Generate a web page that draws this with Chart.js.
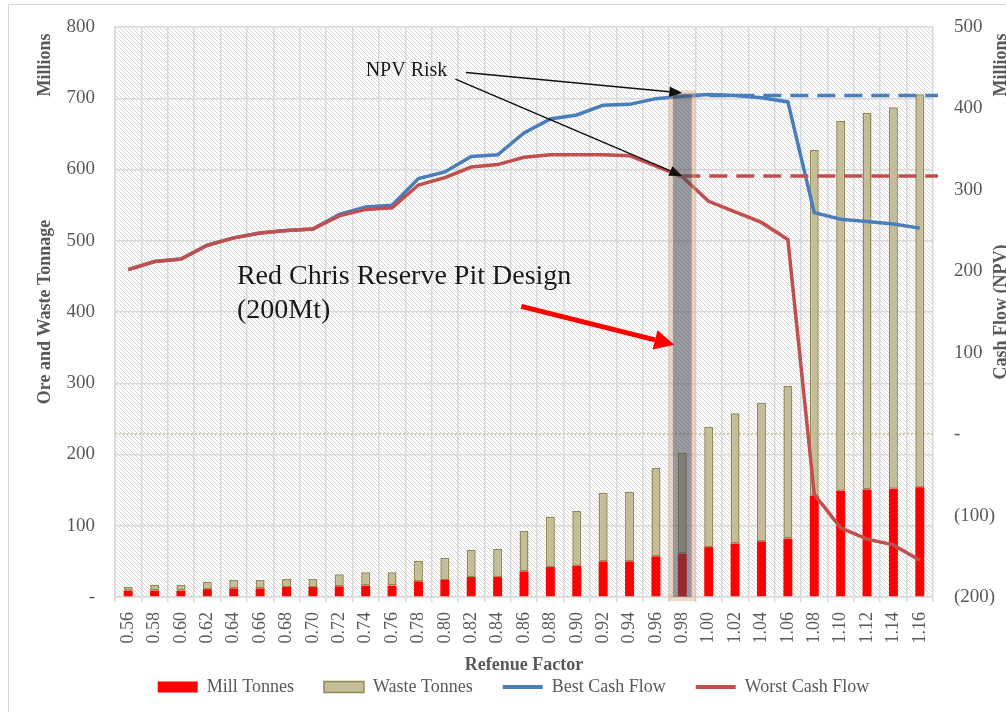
<!DOCTYPE html>
<html>
<head>
<meta charset="utf-8">
<script src="https://cdn.jsdelivr.net/npm/chart.js@4.4.0/dist/chart.umd.min.js"></script>
<style>
  html, body { margin: 0; padding: 0; background: #fff; overflow: hidden; width: 1006px; height: 712px; }
  #frame { position: absolute; left: 8px; top: 4px; width: 1040px; height: 760px; border: 1.5px solid #d9d9d9; }
  #wrap { position: absolute; left: 0; top: 0; width: 1027px; height: 712px; }
</style>
</head>
<body>
<div id="frame"></div>
<div id="wrap"><canvas id="chart"></canvas></div>
<script>
const factors = ['0.56','0.58','0.60','0.62','0.64','0.66','0.68','0.70','0.72','0.74','0.76',
                 '0.78','0.80','0.82','0.84','0.86','0.88','0.90','0.92','0.94','0.96','0.98',
                 '1.00','1.02','1.04','1.06','1.08','1.10','1.12','1.14','1.16'];

// millions of tonnes (left axis)
const millTonnes  = [9, 9, 9, 11, 12, 12, 14, 14, 15, 16, 16, 22, 24, 28, 28, 36, 42, 44, 50, 50,
                     57, 61, 70, 75, 78, 82, 142, 149, 151, 152, 154];
const wasteTonnes = [5.5, 7.8, 7.8, 10, 11.9, 11.9, 11.3, 11.3, 16.8, 18.6, 18.6, 28.5, 31.2, 38, 39.4,
                     56.6, 70.7, 76.7, 96.4, 97.8, 124.5, 141.6, 169, 183, 194.7, 214, 485.4, 519,
                     528.7, 535.3, 551.5];

// NPV, millions (right axis)
const bestCashFlow  = [202, 212, 215, 232, 241, 247, 250, 252, 270, 279, 281, 314, 322, 341, 343,
                       370, 387, 392, 404, 405, 412, 415, 417, 416, 413, 408, 272, 264, 261, 258, 253];
const worstCashFlow = [202, 212, 215, 232, 241, 247, 250, 252, 268, 276, 278, 306, 315, 328, 331,
                       340, 343, 343, 343, 342, 329, 316, 286, 273, 260, 239, -74, -115, -129, -136, -155];

const leftTicks = { min: 0, max: 800, step: 100 };
const rightTicks = { min: -200, max: 500, step: 100 };

// chosen pit and NPV risk levels (best, worst)
const riskIndex = 21;
const riskLevels = [416, 317];
const riskColors = ['#4a7ebb', '#c0504d'];

// annotation anchors: [category index, axis value]
const npvLabel = ['NPV Risk', 9, 440];
const npvArrowStarts = [[12.8, 444], [12.4, 436]];
const npvArrowTips = [[21, 419], [21, 317]];
const pitLabel = ['Red Chris Reserve Pit Design', '(200Mt)'];
const pitLabelAt = [4.12, 438.6, 391.6];
const pitArrow = [[14.9, 408], [20.7, 354]];

const axisTitles = ['Ore and Waste Tonnage', 'Cash Flow (NPV)', 'Refenue Factor'];
const unitLabel = 'Millions';

Chart.defaults.font.family = "'Liberation Serif', 'Times New Roman', serif";
Chart.defaults.color = '#595959';

function arrow(ctx, x1, y1, x2, y2, lw, head, spread, color) {
  const ang = Math.atan2(y2 - y1, x2 - x1);
  const bx = x2 - head * Math.cos(ang), by = y2 - head * Math.sin(ang);
  ctx.strokeStyle = color; ctx.fillStyle = color; ctx.lineWidth = lw;
  ctx.beginPath(); ctx.moveTo(x1, y1); ctx.lineTo(bx, by); ctx.stroke();
  ctx.beginPath();
  ctx.moveTo(x2, y2);
  ctx.lineTo(bx + head * spread * Math.sin(ang), by - head * spread * Math.cos(ang));
  ctx.lineTo(bx - head * spread * Math.sin(ang), by + head * spread * Math.cos(ang));
  ctx.closePath(); ctx.fill();
}

const hatchPlugin = {
  id: 'hatch',
  beforeDraw(chart) {
    const { ctx, chartArea: a } = chart;
    const tile = document.createElement('canvas');
    tile.width = tile.height = 4;
    const t = tile.getContext('2d');
    t.strokeStyle = '#d6d6d6'; t.lineWidth = 1;
    t.beginPath(); t.moveTo(-1, -1); t.lineTo(5, 5); t.stroke();
    ctx.save();
    ctx.fillStyle = ctx.createPattern(tile, 'repeat');
    ctx.fillRect(a.left, a.top, a.right - a.left, a.bottom - a.top);
    ctx.restore();
  }
};

const overlayPlugin = {
  id: 'overlay',
  afterDatasetsDraw(chart) {
    const { ctx, chartArea: a, scales: { x, y, y2 } } = chart;
    const xr = x.getPixelForValue(riskIndex);
    const cw = x.getPixelForValue(1) - x.getPixelForValue(0);
    ctx.save();
    // risk levels carried forward
    ctx.lineWidth = 3.5; ctx.setLineDash([18, 9]);
    riskLevels.forEach((v, i) => {
      const py = y2.getPixelForValue(v);
      ctx.strokeStyle = riskColors[i];
      ctx.beginPath(); ctx.moveTo(xr, py); ctx.lineTo(a.right + 5, py); ctx.stroke();
    });
    ctx.setLineDash([]);

    // highlighted pit column
    const top = y2.getPixelForValue(riskLevels[0]) - 1;
    const hw = cw * 0.36;
    ctx.fillStyle = 'rgba(70,74,84,0.55)';
    ctx.fillRect(xr - hw, top, 2 * hw, a.bottom - top);
    ctx.strokeStyle = 'rgba(225,160,110,0.4)'; ctx.lineWidth = 4;
    ctx.strokeRect(xr - hw - 2, top - 2, 2 * hw + 4, a.bottom - top + 4);

    // NPV Risk annotation
    ctx.font = "20px 'Liberation Serif', serif";
    ctx.fillStyle = '#1a1a1a'; ctx.textAlign = 'left'; ctx.textBaseline = 'alphabetic';
    ctx.fillText(npvLabel[0], x.getPixelForValue(npvLabel[1]), y2.getPixelForValue(npvLabel[2]));
    npvArrowStarts.forEach((s, i) => {
      const t = npvArrowTips[i];
      arrow(ctx, x.getPixelForValue(s[0]), y2.getPixelForValue(s[1]),
            x.getPixelForValue(t[0]), y2.getPixelForValue(t[1]), 1.5, 13, 0.4, '#111');
    });

    // pit design annotation
    ctx.font = "28px 'Liberation Serif', serif";
    ctx.fillStyle = '#1a1a1a';
    const px = x.getPixelForValue(pitLabelAt[0]);
    ctx.fillText(pitLabel[0], px, y.getPixelForValue(pitLabelAt[1]));
    ctx.fillText(pitLabel[1], px, y.getPixelForValue(pitLabelAt[2]));
    arrow(ctx, x.getPixelForValue(pitArrow[0][0]), y.getPixelForValue(pitArrow[0][1]),
          x.getPixelForValue(pitArrow[1][0]), y.getPixelForValue(pitArrow[1][1]), 5, 20, 0.5, '#ff0000');
    ctx.restore();
  },
  afterDraw(chart) {
    const { ctx, chartArea: a, scales: { y2 } } = chart;
    const midY = (a.top + a.bottom) / 2;
    ctx.save();
    ctx.font = "bold 18px 'Liberation Serif', serif";
    ctx.fillStyle = '#595959';
    ctx.textAlign = 'center'; ctx.textBaseline = 'middle';
    const vtext = (s, cx, cy) => {
      ctx.save(); ctx.translate(cx, cy); ctx.rotate(-Math.PI / 2); ctx.fillText(s, 0, 0); ctx.restore();
    };
    vtext(axisTitles[0], 45.5, midY);
    vtext(unitLabel, 45.5, 65);
    vtext(axisTitles[1], y2.left + 68, midY);
    vtext(unitLabel, y2.left + 68, 65);
    ctx.fillText(axisTitles[2], (a.left + a.right) / 2, 665);
    ctx.restore();
  }
};

const barCommon = { yAxisID: 'y', stack: 'tonnes', barPercentage: 0.34, categoryPercentage: 1 };

new Chart(document.getElementById('chart'), {
  data: {
    labels: factors,
    datasets: [
      { type: 'bar', label: 'Mill Tonnes', data: millTonnes, backgroundColor: '#ff0000',
        borderWidth: 0, order: 2, ...barCommon },
      { type: 'bar', label: 'Waste Tonnes', data: wasteTonnes, backgroundColor: '#c4bd97',
        borderColor: '#938953', borderWidth: 1.5, borderSkipped: false, order: 3, ...barCommon },
      { type: 'line', label: 'Best Cash Flow', data: bestCashFlow, borderColor: '#4a7ebb',
        backgroundColor: '#4a7ebb', borderWidth: 3.5, pointRadius: 0, tension: 0, yAxisID: 'y2', order: 1 },
      { type: 'line', label: 'Worst Cash Flow', data: worstCashFlow, borderColor: '#c0504d',
        backgroundColor: '#c0504d', borderWidth: 3.5, pointRadius: 0, tension: 0, yAxisID: 'y2', order: 0 }
    ]
  },
  options: {
    responsive: true,
    maintainAspectRatio: false,
    animation: false,
    layout: { padding: { top: 27, left: 0, right: 0, bottom: 6 } },
    plugins: {
      tooltip: { enabled: false },
      legend: {
        position: 'bottom',
        labels: {
          usePointStyle: true,
          pointStyleWidth: 40,
          boxHeight: 11,
          padding: 30,
          color: '#595959',
          font: { size: 18 },
          generateLabels(chart) {
            const items = Chart.defaults.plugins.legend.labels.generateLabels(chart);
            items.forEach(it => {
              const ds = chart.data.datasets[it.datasetIndex];
              it.pointStyle = ds.type === 'line' ? 'line' : 'rect';
              if (ds.type === 'line') it.lineWidth = 4;
            });
            return items;
          },
          sort: (a, b) => a.datasetIndex - b.datasetIndex
        }
      }
    },
    scales: {
      x: {
        stacked: true,
        offset: true,
        grid: { offset: true, color: '#d9d9d9', lineWidth: 1.5, tickLength: 5 },
        border: { color: '#d9d9d9', width: 1.5 },
        ticks: { autoSkip: false, minRotation: 90, maxRotation: 90, padding: 10,
                 font: { size: 18 }, color: '#595959' },
        afterFit(s) { s.height = 51; }
      },
      y: {
        position: 'left',
        stacked: true,
        min: leftTicks.min, max: leftTicks.max,
        ticks: { stepSize: leftTicks.step, padding: 20, font: { size: 19 }, color: '#595959',
                 callback: v => v === 0 ? '-' : v },
        grid: { color: '#d9d9d9', lineWidth: 1.5, drawTicks: false },
        border: { color: '#d9d9d9', width: 1.5 },
        afterFit(s) { s.width = 115; s.paddingTop = 0; s.paddingBottom = 0; }
      },
      y2: {
        position: 'right',
        min: rightTicks.min, max: rightTicks.max,
        ticks: { stepSize: rightTicks.step, padding: 21, font: { size: 19 }, color: '#595959',
                 callback: v => v === 0 ? '-' : (v < 0 ? '(' + (-v) + ')' : v) },
        grid: { drawTicks: false, lineWidth: 1.5,
                color: c => (c.tick && c.tick.value === 0) ? '#cdc49a' : 'rgba(0,0,0,0)' },
        border: { display: false, dash: [2, 2] },
        afterFit(s) { s.width = 94; s.paddingTop = 0; s.paddingBottom = 0; }
      }
    }
  },
  plugins: [hatchPlugin, overlayPlugin]
});
</script>
</body>
</html>
